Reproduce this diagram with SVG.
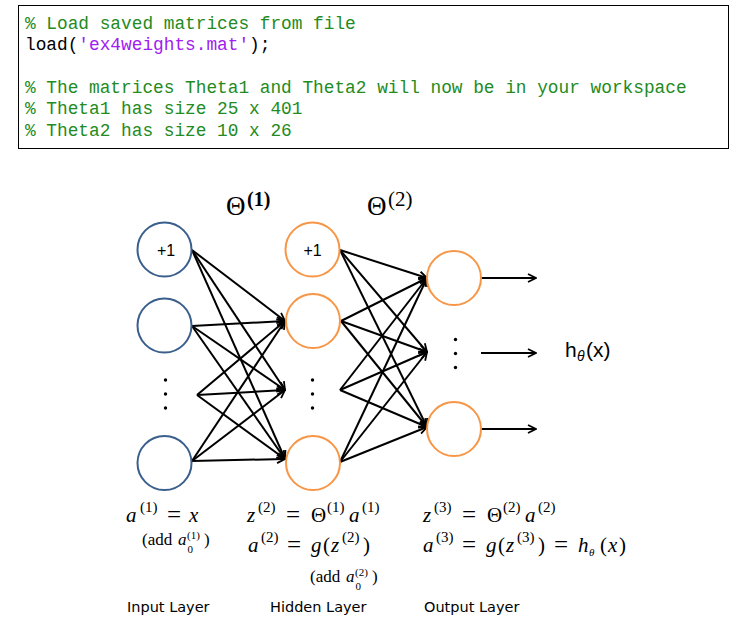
<svg xmlns="http://www.w3.org/2000/svg" width="743" height="620" viewBox="0 0 743 620">
<style>
.code{font-family:"Liberation Mono","Courier New",monospace;font-size:17.8px;fill:#000}
.cm{fill:#228B22}
.str{fill:#A020F0}
.in{fill:#fff;stroke:#3A5F8D;stroke-width:2}
.hd{fill:#fff;stroke:#F79646;stroke-width:2}
.edge{stroke:#000;stroke-width:2;fill:none;marker-end:url(#ah)}
.dot{fill:#000}
.m{font-family:"Liberation Serif","Times New Roman",serif;font-size:21px;fill:#000}
.i{font-style:italic}
.sup{font-size:15px}
.eq{font-size:25px}
.sm{font-size:17px}
.ss{font-size:11px}
.lab{font-family:"DejaVu Sans",sans-serif;font-size:14.5px;fill:#000}
.one{font-family:"Liberation Sans",Arial,sans-serif;font-size:16px;fill:#000;text-anchor:middle}
.hx{font-family:"Liberation Sans",Arial,sans-serif;font-size:21px;fill:#000}
</style>
<defs>
<marker id="ah" viewBox="0 0 10 10" refX="9" refY="5" markerWidth="10" markerHeight="10" markerUnits="userSpaceOnUse" orient="auto">
<path d="M1,1 L9,5 L1,9" fill="none" stroke="#000" stroke-width="1.8"/>
</marker>
</defs>

<g id="code-box">
<rect x="18.5" y="5.5" width="710" height="143" fill="#fff" stroke="#000" stroke-width="1"/>
<text class="code cm" x="25" y="29">% Load saved matrices from file</text>
<text class="code" x="25" y="50">load(<tspan class="str">'ex4weights.mat'</tspan>);</text>
<text class="code cm" x="25" y="93">% The matrices Theta1 and Theta2 will now be in your workspace</text>
<text class="code cm" x="25" y="114">% Theta1 has size 25 x 401</text>
<text class="code cm" x="25" y="136">% Theta2 has size 10 x 26</text>
</g>

<g id="theta-labels">
<text class="m" style="font-size:27px" x="226" y="215">Θ<tspan x="247" y="206" style="font-size:20px;font-weight:bold">(1)</tspan></text>
<text class="m" style="font-size:27px" x="367" y="215">Θ<tspan x="388" y="206" style="font-size:21px">(2)</tspan></text>
</g>

<g id="connectors">
<line class="edge" x1="192" y1="250" x2="285" y2="321"/>
<line class="edge" x1="192" y1="250" x2="285" y2="390"/>
<line class="edge" x1="192" y1="250" x2="285" y2="459"/>
<line class="edge" x1="192" y1="326" x2="285" y2="321"/>
<line class="edge" x1="192" y1="326" x2="285" y2="390"/>
<line class="edge" x1="192" y1="326" x2="285" y2="459"/>
<line class="edge" x1="197" y1="395" x2="285" y2="321"/>
<line class="edge" x1="197" y1="395" x2="285" y2="390"/>
<line class="edge" x1="197" y1="395" x2="285" y2="459"/>
<line class="edge" x1="192" y1="461" x2="285" y2="321"/>
<line class="edge" x1="192" y1="461" x2="285" y2="390"/>
<line class="edge" x1="192" y1="461" x2="285" y2="459"/>
<line class="edge" x1="340" y1="250" x2="427" y2="278"/>
<line class="edge" x1="340" y1="250" x2="427" y2="352"/>
<line class="edge" x1="340" y1="250" x2="427" y2="427"/>
<line class="edge" x1="341" y1="321" x2="427" y2="278"/>
<line class="edge" x1="341" y1="321" x2="427" y2="352"/>
<line class="edge" x1="341" y1="321" x2="427" y2="427"/>
<line class="edge" x1="340" y1="390" x2="427" y2="278"/>
<line class="edge" x1="340" y1="390" x2="427" y2="352"/>
<line class="edge" x1="340" y1="390" x2="427" y2="427"/>
<line class="edge" x1="340" y1="462" x2="427" y2="278"/>
<line class="edge" x1="340" y1="462" x2="427" y2="352"/>
<line class="edge" x1="340" y1="462" x2="427" y2="427"/>
<line class="edge" x1="481" y1="278" x2="536" y2="278"/>
<line class="edge" x1="481" y1="353" x2="536" y2="353"/>
<line class="edge" x1="481" y1="429" x2="536" y2="429"/>
</g>

<g id="input-bias"><circle class="in" cx="164.5" cy="249.5" r="27"/><text class="one" x="166" y="255.5">+1</text></g>
<g id="input-1"><circle class="in" cx="164.5" cy="325.5" r="27"/></g>
<g id="input-dots"><circle class="dot" cx="165.5" cy="380" r="1.7"/><circle class="dot" cx="165.5" cy="394" r="1.7"/><circle class="dot" cx="165.5" cy="408" r="1.7"/></g>
<g id="input-n"><circle class="in" cx="164.5" cy="463" r="27"/></g>

<g id="hidden-bias"><circle class="hd" cx="312.5" cy="249.5" r="27"/><text class="one" x="312.5" y="255.5">+1</text></g>
<g id="hidden-1"><circle class="hd" cx="313" cy="321" r="27"/></g>
<g id="hidden-dots"><circle class="dot" cx="312.5" cy="380" r="1.7"/><circle class="dot" cx="312.5" cy="394" r="1.7"/><circle class="dot" cx="312.5" cy="408" r="1.7"/></g>
<g id="hidden-n"><circle class="hd" cx="313" cy="463" r="27"/></g>

<g id="output-1"><circle class="hd" cx="454" cy="278" r="27"/></g>
<g id="output-dots"><circle class="dot" cx="455.5" cy="339.5" r="1.7"/><circle class="dot" cx="455.5" cy="353.5" r="1.7"/><circle class="dot" cx="455.5" cy="367.5" r="1.7"/></g>
<g id="output-n"><circle class="hd" cx="454" cy="429" r="27"/></g>

<g id="h-label">
<text class="hx" x="565" y="357">h<tspan x="577" y="361" style="font-size:14px;font-style:italic">θ</tspan><tspan x="586" y="357">(x)</tspan></text>
</g>

<g id="formulas">
<text class="m"><tspan x="126" y="522" class="i">a</tspan><tspan x="140" y="512" class="sup">(1)</tspan><tspan x="167" y="523" class="eq">=</tspan><tspan x="189" y="522" class="i">x</tspan></text>
<text class="m sm"><tspan x="142" y="545">(add</tspan><tspan x="178" y="545" class="i">a</tspan><tspan x="187" y="539" class="ss">(1)</tspan><tspan x="187.5" y="553" class="ss">0</tspan><tspan x="204" y="545">)</tspan></text>

<text class="m"><tspan x="247" y="522" class="i">z</tspan><tspan x="258" y="512" class="sup">(2)</tspan><tspan x="286" y="523" class="eq">=</tspan><tspan x="311" y="522">Θ</tspan><tspan x="327" y="512" class="sup">(1)</tspan><tspan x="349" y="522" class="i">a</tspan><tspan x="362" y="512" class="sup">(1)</tspan></text>
<text class="m"><tspan x="248" y="552" class="i">a</tspan><tspan x="261" y="542" class="sup">(2)</tspan><tspan x="287" y="553" class="eq">=</tspan><tspan x="311" y="552" class="i">g</tspan><tspan x="323" y="552">(</tspan><tspan x="331" y="552" class="i">z</tspan><tspan x="342" y="542" class="sup">(2)</tspan><tspan x="363" y="552">)</tspan></text>
<text class="m sm"><tspan x="310" y="582">(add</tspan><tspan x="346" y="582" class="i">a</tspan><tspan x="355" y="576" class="ss">(2)</tspan><tspan x="355.5" y="590" class="ss">0</tspan><tspan x="372" y="582">)</tspan></text>

<text class="m"><tspan x="423" y="522" class="i">z</tspan><tspan x="434" y="512" class="sup">(3)</tspan><tspan x="462" y="523" class="eq">=</tspan><tspan x="487" y="522">Θ</tspan><tspan x="503" y="512" class="sup">(2)</tspan><tspan x="525" y="522" class="i">a</tspan><tspan x="538" y="512" class="sup">(2)</tspan></text>
<text class="m"><tspan x="423" y="552" class="i">a</tspan><tspan x="436" y="542" class="sup">(3)</tspan><tspan x="462" y="553" class="eq">=</tspan><tspan x="486" y="552" class="i">g</tspan><tspan x="498" y="552">(</tspan><tspan x="506" y="552" class="i">z</tspan><tspan x="517" y="542" class="sup">(3)</tspan><tspan x="538" y="552">)</tspan><tspan x="554" y="553" class="eq">=</tspan><tspan x="578" y="552" class="i">h</tspan><tspan x="589" y="556" class="ss i">θ</tspan><tspan x="600" y="552">(</tspan><tspan x="608" y="552" class="i">x</tspan><tspan x="619" y="552">)</tspan></text>
</g>

<g id="layer-labels">
<text class="lab" x="127" y="612">Input Layer</text>
<text class="lab" x="270" y="612">Hidden Layer</text>
<text class="lab" x="424" y="612">Output Layer</text>
</g>
</svg>
